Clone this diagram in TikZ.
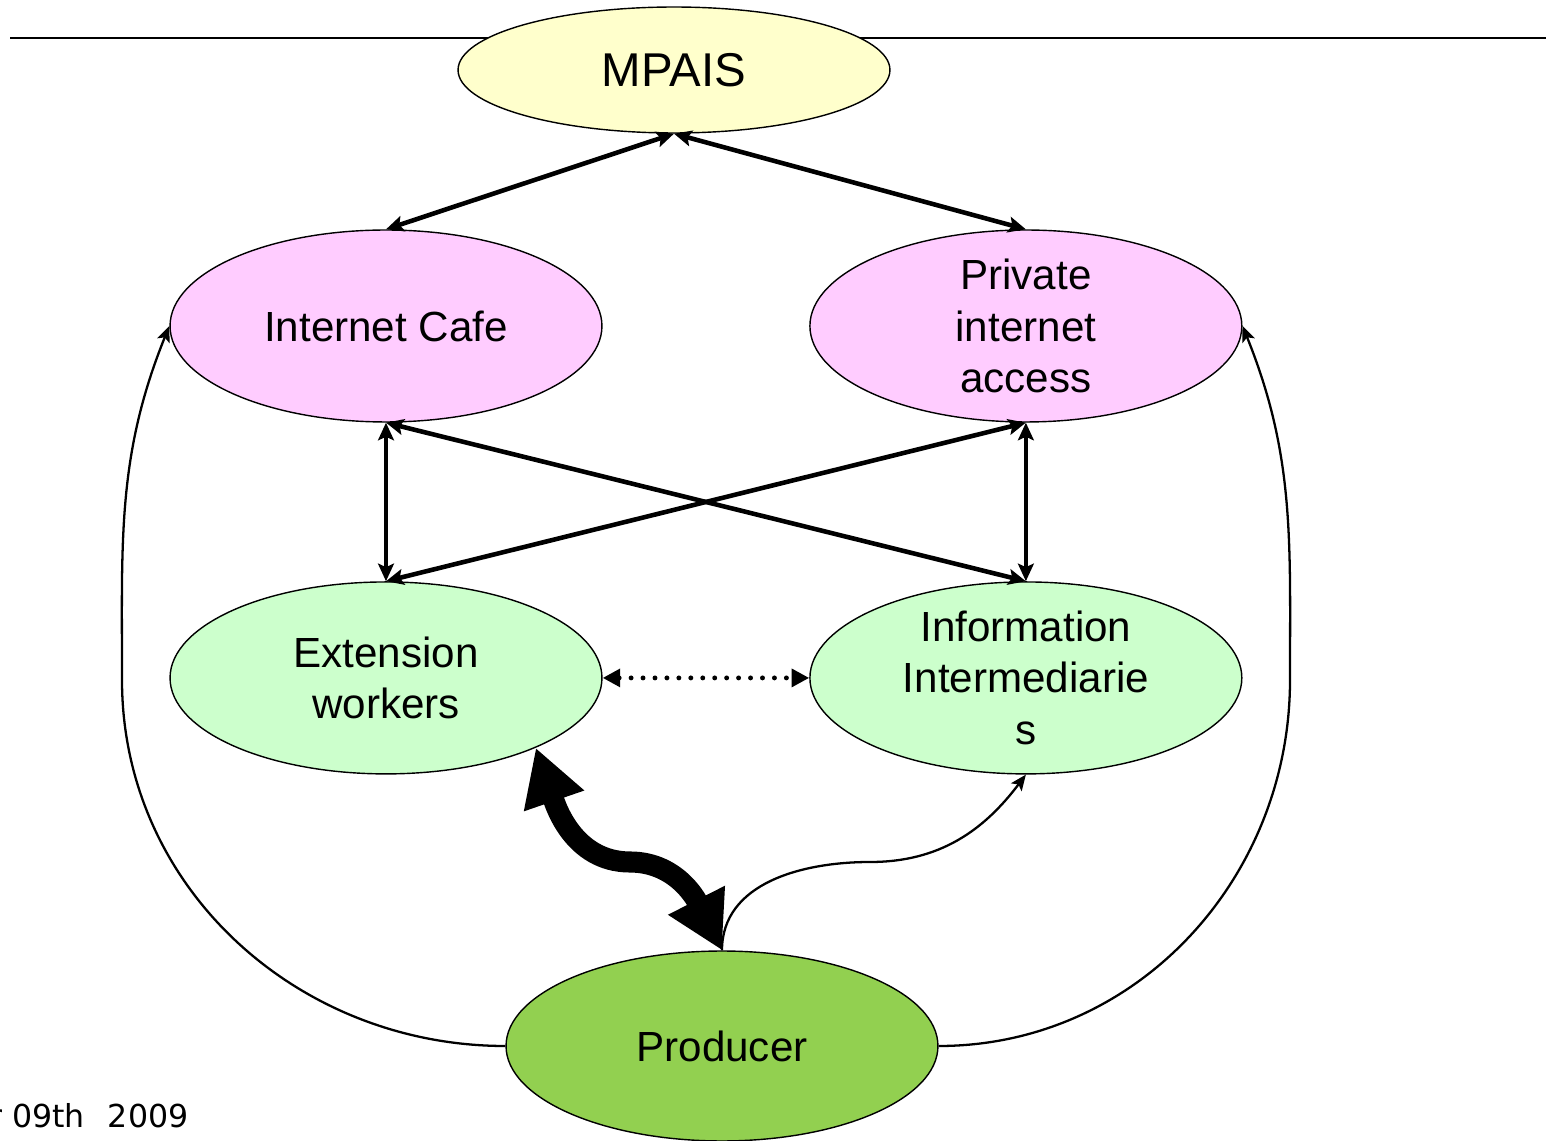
\documentclass[tikz,border=0pt]{standalone}
\usepackage{fontspec}
\setmainfont{Liberation Sans}
\newfontfamily\datefont{DejaVu Sans}
\usepackage{xcolor}
\usetikzlibrary{arrows.meta, positioning, shapes.geometric}
\definecolor{mpaisfill}{HTML}{FFFFCC}
\definecolor{accessfill}{HTML}{FFCCFF}
\definecolor{agentfill}{HTML}{CCFFCC}
\definecolor{producerfill}{HTML}{92D050}

\begin{document}
\begin{tikzpicture}[x=0.02cm,y=-0.02cm,on grid]
    \tikzstyle{state}=[shape=ellipse,draw,line width=0.8pt,inner sep=0pt,minimum width=8.64cm,minimum height=3.84cm,align=center,font=\fontsize{24}{29.5}\selectfont]
    \tikzstyle{link}=[line width=2.6pt,{Stealth[length=10pt,width=9pt,inset=2pt]}-{Stealth[length=10pt,width=9pt,inset=2pt]}]
    \tikzstyle{feed}=[line width=1.3pt,-{Stealth[length=9pt,width=7.5pt,inset=2pt]}]
    \tikzstyle{dotlink}=[line width=2.8pt,line cap=round,dash pattern=on 0pt off 6.8pt,{Triangle[length=10pt,width=10pt]}-{Triangle[length=10pt,width=10pt]}]
    \tikzstyle{fatlink}=[line width=12pt,{Triangle[length=32pt,width=34pt]}-{Triangle[length=32pt,width=34pt]}]

    \useasboundingbox (0,0) rectangle (1556,1141);
    \coordinate (ruleL) at (10,38);
    \coordinate (ruleR) at (1546,38);
    \draw[line width=1.2pt] (ruleL) -- (ruleR);

    \node[state, fill=mpaisfill, minimum height=2.52cm, font=\fontsize{27}{32}\selectfont] (mpais) at (674,70) {MPAIS};
    \node[state, fill=accessfill] (cafe) at (386,326) {Internet Cafe};
    \node[state, fill=accessfill, right=12.8cm of cafe] (priv) {Private\\internet\\access};
    \node[state, fill=agentfill, below=7.04cm of cafe] (ext) {Extension\\workers};
    \node[state, fill=agentfill, below=7.04cm of priv] (info) {Information\\Intermediarie\\s};
    \node[state, fill=producerfill, minimum height=3.8cm] (prod) at (722,1046) {Producer};

    \node[font=\datefont\fontsize{18}{22}\selectfont, inner sep=0pt, anchor=base west] (date) at (-11,1127) {r 09th\hspace{13pt}2009};

    \coordinate (dip) at (630,862);
    \coordinate (hump) at (870,862);
    \coordinate (lsweep) at (122,680);
    \coordinate (rsweep) at (1290,680);

    \path[link]
    (mpais.south) edge (cafe.north)
    (mpais.south) edge (priv.north)
    (cafe.south) edge (ext.north)
    (cafe.south) edge (info.north)
    (priv.south) edge (ext.north)
    (priv.south) edge (info.north)
    ;

    \draw[dotlink] (ext.east) -- (info.west);
    \draw[fatlink] (ext.-25) to[out=-71,in=180] (dip) to[out=0,in=117] (prod.north);

    \draw[feed] (prod.north) to[out=90,in=180] (hump) to[out=0,in=-127] (info.south);
    \draw[feed] (prod.west) to[out=180,in=-90] (lsweep) to[out=90,in=-112] (cafe.west);
    \draw[feed] (prod.east) to[out=0,in=-90] (rsweep) to[out=90,in=-68] (priv.east);
\end{tikzpicture}
\end{document}
